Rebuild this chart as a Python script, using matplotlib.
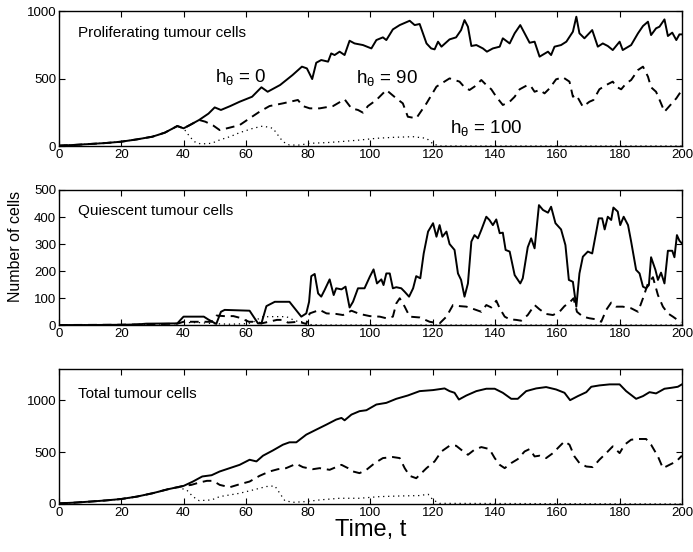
import matplotlib
matplotlib.use("Agg")
import matplotlib.pyplot as plt

plt.rcParams['font.family'] = ['Liberation Sans', 'DejaVu Sans']
plt.rcParams['mathtext.fontset'] = 'custom'
plt.rcParams['mathtext.rm'] = 'Liberation Sans'
plt.rcParams['mathtext.it'] = 'Liberation Sans'

# ---- proliferating cells ----
prolif_h0_t = [0, 5, 10, 15, 20, 25, 30, 34, 38, 40, 42, 45, 48, 50, 52, 55, 58, 62, 65, 67, 71, 75, 78, 79.6,
               81.3, 82.6, 84.2, 86.4, 87.4, 88.5, 90.1, 91.7, 93.3, 94.9, 97.6, 100.3, 101.9, 104, 105.1, 107.2,
               109.4, 112.6, 114.2, 115.8, 118, 119.5, 120.6, 121.7, 122.8, 125.4, 127.5, 129.1, 130.2, 131.3,
               132.4, 134, 136.1, 137.4, 139.3, 141.5, 142.5, 144.7, 146.3, 148.1, 149.5, 151.1, 152.7, 154.3,
               157, 158, 159.1, 161.2, 162.9, 165, 166.1, 167.1, 168.7, 171.2, 173, 174.6, 176.2, 177.8, 180,
               181, 183.7, 185.9, 187.5, 189.1, 190.1, 191.7, 192.8, 194.4, 195.5, 196.9, 198.2, 199.2, 200]
prolif_h0 = [3, 8, 15, 22, 32, 49, 69, 99, 148, 131, 155, 193, 240, 286, 267, 296, 328, 365, 435, 402, 452, 526,
             588, 575, 496, 617, 637, 625, 686, 674, 699, 674, 780, 760, 748, 723, 785, 805, 785, 864, 896, 928,
             896, 904, 760, 723, 716, 773, 736, 790, 805, 859, 933, 884, 741, 748, 723, 699, 723, 736, 798, 760,
             835, 896, 835, 765, 773, 662, 699, 674, 736, 748, 773, 847, 958, 835, 798, 859, 736, 760, 741, 711,
             773, 711, 748, 835, 889, 921, 822, 872, 884, 938, 815, 840, 785, 827, 827]

prolif_h90_t = [0, 5, 10, 15, 20, 25, 30, 34, 38, 40, 42, 45, 47, 49.5, 51.6, 54.8, 58, 61.2, 64.4, 67.6, 71.9,
                76.7, 78.3, 80.5, 83.7, 88, 91.7, 93.9, 96, 97.6, 99.2, 101.9, 105.1, 108.3, 110.4, 112, 114.7,
                118, 121.2, 125.4, 128.6, 130.2, 131.8, 133.4, 135.6, 137.2, 138.8, 140.4, 142.5, 144.7, 146.3,
                147.9, 149.5, 150.5, 151.6, 152.7, 154.3, 155.9, 157.5, 159.6, 161.8, 163.9, 165, 166.1, 168.2,
                170.3, 171.6, 173.5, 175.7, 177.8, 178.9, 180.5, 182.1, 183.7, 185.9, 187.5, 189.1, 190.1, 191.7,
                193.3, 194.4, 196, 198.2, 200]
prolif_h90 = [3, 8, 15, 22, 32, 49, 69, 99, 148, 131, 155, 193, 180, 152, 118, 136, 155, 205, 254, 296, 316, 341,
              296, 279, 279, 296, 346, 279, 267, 247, 296, 341, 415, 353, 316, 217, 205, 316, 440, 501, 477, 435,
              415, 440, 489, 452, 420, 365, 304, 328, 365, 420, 440, 452, 440, 402, 415, 390, 427, 494, 509, 477,
              365, 378, 291, 328, 341, 420, 452, 477, 440, 420, 464, 489, 563, 588, 514, 435, 402, 316, 254, 296,
              353, 415]

prolif_h100_t = [0, 5, 10, 15, 20, 25, 30, 34, 38, 40, 42, 43.5, 45.5, 49, 51.6, 55, 58, 62.3, 65.5, 68.7, 70.3,
                 71.9, 74, 77.3, 80.5, 85.9, 90.1, 96.5, 101.9, 107.2, 113.7, 118, 120.1, 122.3, 200]
prolif_h100 = [3, 8, 15, 22, 32, 49, 69, 99, 148, 131, 69, 32, 15, 20, 45, 70, 99, 131, 148, 131, 81, 32, 7, 7,
               20, 25, 32, 44, 57, 64, 69, 57, 15, 0, 0]

# ---- quiescent cells ----
quiesc_h0_t = [0, 10, 20, 25, 28, 38, 39.5, 40, 46.5, 48, 50.5, 52, 53.2, 61.2, 63.9, 65, 66.6, 69.3, 74, 77.8,
               79.4, 80.3, 81, 82.1, 83.2, 84.2, 85.3, 86.9, 88.2, 89, 90.7, 92, 93.3, 94.4, 96, 98.1, 99.8, 101,
               102.1, 103.5, 104.2, 105.1, 106.2, 107.2, 108.3, 109.9, 111, 112.4, 113.7, 114.7, 116, 117.1,
               118.5, 120.1, 121.2, 122.2, 123.1, 124.4, 125.4, 127, 128.1, 129.1, 130.2, 131.3, 132.4, 133.4,
               134.5, 135.6, 137.2, 138.2, 139.3, 140.4, 141.5, 142.5, 143.4, 144.7, 146.3, 148.1, 148.9, 150.5,
               151.6, 152.7, 154.1, 155.4, 157, 158, 159.4, 161.2, 162.6, 163.7, 165, 166.1, 167.1, 168.2, 169.8,
               171.2, 173.3, 174.4, 175.2, 176.2, 177.3, 178, 179.4, 180.2, 181.3, 182.7, 183.7, 185.3, 186.4,
               187.5, 188.5, 189.4, 190.1, 191.5, 192.3, 193.3, 194.4, 195.5, 196.9, 197.6, 198.4, 199.2, 200]
quiesc_h0 = [0, 0, 1, 2, 5, 6, 25, 31, 31, 20, 4, 49, 56, 53, 6, 6, 70, 86, 86, 31, 43, 86, 181, 189, 117, 105,
             130, 169, 111, 136, 132, 142, 65, 86, 136, 136, 179, 206, 154, 169, 148, 191, 191, 136, 140, 136,
             123, 105, 136, 181, 173, 265, 346, 377, 327, 370, 327, 346, 300, 278, 191, 167, 105, 154, 309, 333,
             321, 352, 401, 389, 370, 391, 340, 342, 278, 272, 185, 154, 173, 288, 321, 284, 444, 426, 416, 438,
             377, 354, 296, 167, 160, 68, 191, 253, 272, 265, 395, 395, 354, 401, 389, 435, 420, 370, 401, 370,
             309, 204, 191, 142, 136, 148, 251, 204, 167, 194, 154, 275, 275, 251, 333, 312, 302]

quiesc_h90_t = [0, 20, 38, 40, 45, 49, 50.6, 53, 56, 58, 61, 63.4, 65, 70, 72, 73.5, 77, 79.4, 80.5, 83.7, 85.9,
                89, 91.2, 93.9, 96.5, 99.8, 103, 105.1, 107.2, 108.3, 109.4, 111, 112.6, 115.8, 119, 122.2, 124.4,
                126.5, 128.6, 130.8, 133.4, 135.6, 137.2, 138.8, 140.4, 141.5, 143.1, 144.7, 146.8, 148.4, 150.5,
                152.7, 154.3, 156.4, 158.6, 160.7, 162.3, 163.9, 165.2, 166.3, 168.2, 170.3, 172.5, 174.1, 175.7,
                177.3, 178.9, 181, 183.7, 185.9, 187.5, 189.1, 190.7, 192.3, 193.9, 195.5, 197.1, 199.8]
quiesc_h90 = [0, 1, 5, 12, 12, 12, 35, 33, 33, 27, 12, 12, 6, 19, 19, 9, 12, 4, 43, 56, 43, 41, 37, 53, 41, 33,
              31, 25, 31, 80, 99, 68, 31, 28, 12, 6, 31, 74, 70, 68, 58, 49, 74, 65, 90, 62, 31, 21, 19, 16, 37,
              74, 58, 41, 37, 49, 70, 83, 99, 49, 31, 25, 21, 12, 56, 83, 68, 68, 62, 49, 99, 154, 177, 111, 68,
              43, 31, 9]

quiesc_h100_t = [0, 20, 38, 40, 45, 50, 55, 60, 62, 65, 68, 73, 76, 78, 80, 85, 200]
quiesc_h100 = [0, 1, 5, 9, 9, 5, 3, 5, 8, 30, 31, 31, 15, 12, 2, 0, 0]

# ---- total cells ----
total_h0_t = [0, 5, 10, 15, 20, 25, 30, 35, 40, 43, 46, 49, 51.6, 54.8, 58, 61.2, 63.4, 65.5, 68.7, 71.9, 74,
              76.2, 79.4, 82.6, 85.9, 89, 90.7, 91.7, 93.9, 96.5, 98.7, 101.9, 105.1, 108.3, 112, 115.8, 120.1,
              123.8, 125.4, 127, 128.4, 130.8, 134, 137.2, 139.9, 142.5, 145.2, 147.3, 150, 153.2, 156.4, 159.6,
              162.3, 164.1, 166.6, 169.3, 170.9, 173.5, 176.8, 180, 182.1, 185.3, 187.5, 189.6, 191.7, 194.4,
              196.6, 198.7, 200]
total_h0 = [6, 13, 23, 34, 48, 71, 103, 142, 174, 216, 265, 277, 313, 345, 377, 426, 410, 465, 516, 571, 594, 594,
            668, 716, 765, 813, 829, 806, 861, 894, 903, 958, 974, 1013, 1045, 1087, 1097, 1113, 1087, 1071, 1006,
            1045, 1087, 1110, 1110, 1071, 1013, 1013, 1087, 1113, 1126, 1103, 1071, 1000, 1039, 1077, 1129, 1142,
            1152, 1152, 1087, 1013, 1039, 1077, 1065, 1110, 1119, 1129, 1152]

total_h90_t = [0, 5, 10, 15, 20, 25, 30, 35, 40, 42.5, 45, 47.5, 49.5, 51.6, 54.8, 58, 61.2, 64.4, 67.6, 70.3,
               72.9, 76.2, 78.3, 81.5, 83.7, 86.9, 90.7, 92.8, 94.4, 96.5, 98.7, 101.4, 104, 107.2, 109.4, 111,
               112.6, 114.7, 118, 120.6, 122.8, 125.4, 127.5, 129.1, 131.3, 133.4, 135.6, 138.2, 139.9, 141.5,
               143.1, 145.2, 147.3, 149.5, 151.1, 152.7, 154.3, 156.4, 158.6, 160.7, 162.3, 163.9, 165.5, 167.1,
               169.3, 171.4, 173.5, 175.7, 177.8, 180, 181.6, 183.7, 185.9, 188.5, 190.1, 192.3, 193.9, 196,
               198.2, 200]
total_h90 = [6, 13, 23, 34, 48, 71, 103, 142, 174, 184, 206, 223, 223, 184, 161, 190, 216, 271, 313, 335, 345, 387,
             355, 335, 345, 329, 377, 345, 313, 297, 329, 394, 442, 452, 442, 345, 271, 248, 345, 410, 506, 561,
             561, 523, 474, 523, 548, 529, 442, 377, 345, 394, 432, 506, 529, 458, 465, 442, 490, 555, 603, 571,
             458, 394, 361, 355, 426, 490, 555, 490, 571, 619, 626, 626, 571, 458, 345, 377, 410, 465]

total_h100_t = [0, 5, 10, 15, 20, 25, 30, 35, 38, 41, 43, 45, 49, 51.6, 54.8, 58, 62.3, 66.6, 69.3, 70.9, 72.5,
                75.1, 79.4, 83.7, 90.1, 96.5, 103, 109.4, 115.8, 118.5, 120.1, 122.2, 200]
total_h100 = [6, 13, 23, 34, 48, 71, 103, 142, 160, 135, 71, 32, 39, 71, 87, 103, 135, 168, 174, 103, 32, 16, 23,
              39, 55, 55, 71, 77, 81, 94, 39, 6, 0]

panels = [
    ("Proliferating tumour cells", (prolif_h0_t, prolif_h0), (prolif_h90_t, prolif_h90),
     (prolif_h100_t, prolif_h100), 1000, [0, 500, 1000]),
    ("Quiescent tumour cells", (quiesc_h0_t, quiesc_h0), (quiesc_h90_t, quiesc_h90),
     (quiesc_h100_t, quiesc_h100), 500, [0, 100, 200, 300, 400, 500]),
    ("Total tumour cells", (total_h0_t, total_h0), (total_h90_t, total_h90),
     (total_h100_t, total_h100), 1300, [0, 500, 1000]),
]

fig = plt.figure(figsize=(6.93, 5.52), dpi=100)
boxes = [(0.0851, 0.7355, 0.8989, 0.2445),
         (0.0851, 0.4112, 0.8989, 0.2446),
         (0.0851, 0.0870, 0.8989, 0.2445)]
title_y = [0.81, 0.815, 0.783]

axes = []
for box, (title, s0, s90, s100, ymax, yt), ty in zip(boxes, panels, title_y):
    ax = fig.add_axes(box)
    ax.plot(s100[0], s100[1], color='black', lw=0.9, linestyle=(0, (1, 3)))
    ax.plot(s90[0], s90[1], color='black', lw=1.4, linestyle=(0, (4.5, 3)))
    ax.plot(s0[0], s0[1], color='black', lw=1.4)
    ax.set_xlim(0, 200)
    ax.set_ylim(0, ymax)
    ax.set_xticks(range(0, 201, 20))
    ax.set_yticks(yt)
    ax.tick_params(direction='in', top=True, right=True, length=4, width=0.8, labelsize=9.5, pad=2)
    for sp in ax.spines.values():
        sp.set_linewidth(1.0)
    ax.text(0.0305, ty, title, transform=ax.transAxes, fontsize=11, ha='left', va='baseline')
    axes.append(ax)

axes[0].text(50, 474, r'h$_{\theta}$ = 0', fontsize=13.5, ha='left', va='baseline')
axes[0].text(95.5, 467, r'h$_{\theta}$ = 90', fontsize=13.5, ha='left', va='baseline')
axes[0].text(125.4, 96, r'h$_{\theta}$ = 100', fontsize=13.5, ha='left', va='baseline')

axes[1].set_ylabel('Number of cells', fontsize=11.5)
axes[1].yaxis.set_label_coords(-0.057, 0.58)
axes[2].set_xlabel('Time, t', fontsize=17, labelpad=0)

fig.savefig('out.png', dpi=100)
